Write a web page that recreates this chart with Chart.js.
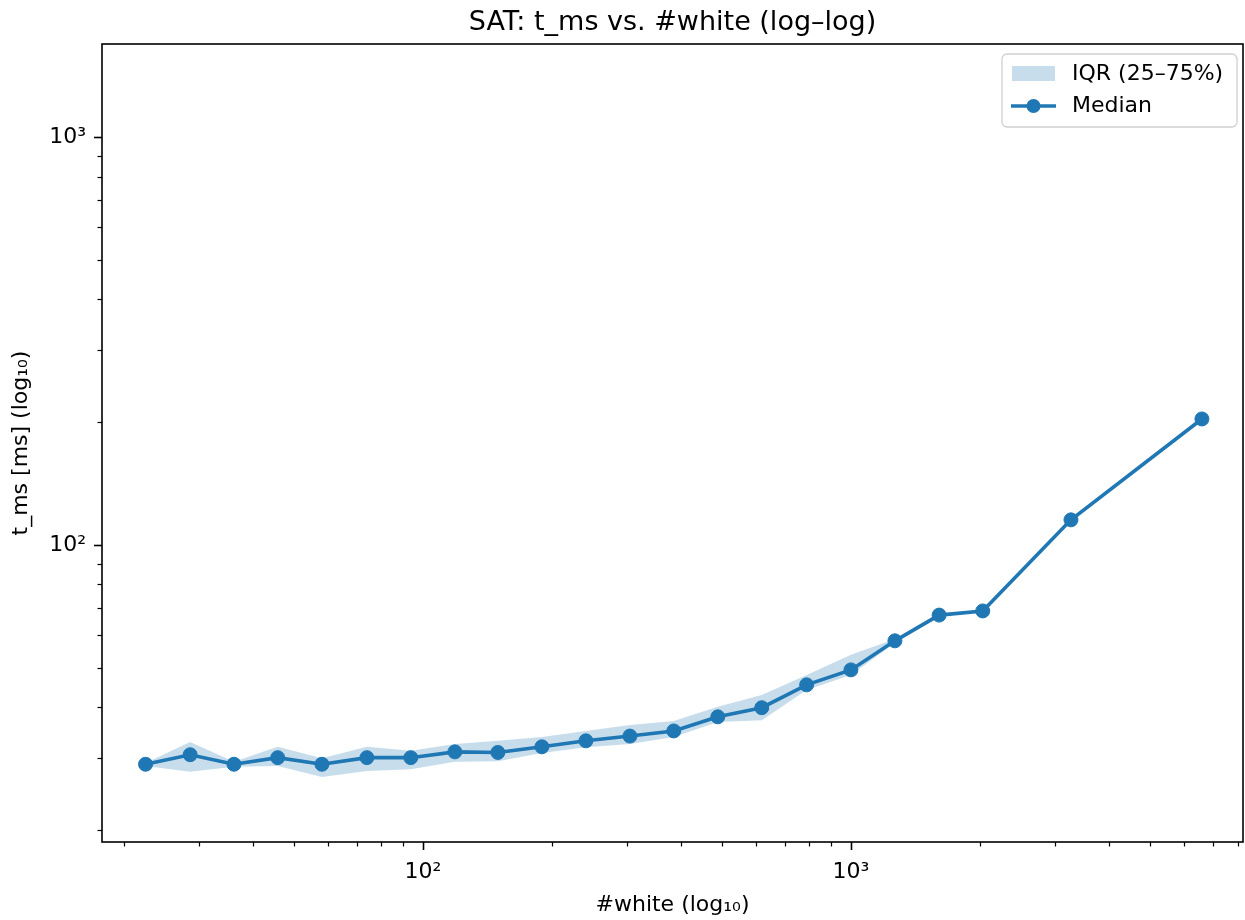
<!DOCTYPE html>
<html>
<head>
<meta charset="utf-8">
<script src="https://cdn.jsdelivr.net/npm/chart.js@4.4.1/dist/chart.umd.min.js"></script>
<style>
  html, body { margin: 0; padding: 0; background: #ffffff; }
  #wrap { width: 1245px; height: 920px; }
</style>
</head>
<body>
<div id="wrap"><canvas id="satChart" width="1245" height="920"></canvas></div>
<script>
// values
const whiteCounts = [22.5, 28.6, 36.2, 45.8, 58.1, 74, 93.7, 118.8, 149.7, 189.7, 240.4, 304.6, 385.6, 488.6, 619, 788, 1000, 1267, 1607, 2032, 3266, 6606];
const medianMs = [29.0, 30.6, 29.0, 30.1, 29.0, 30.1, 30.1, 31.1, 31.0, 32.0, 33.1, 34.0, 35.0, 37.9, 39.9, 45.4, 49.4, 58.2, 67.3, 68.9, 115.2, 203.6];
const q25Ms = [28.7, 27.8, 28.6, 28.7, 27.0, 27.9, 28.2, 29.4, 29.5, 30.9, 31.9, 32.5, 33.8, 36.8, 37.2, 44.1, 48.0, 57.5, 67.3, 68.9, 115.2, 203.6];
const q75Ms = [29.2, 32.9, 29.4, 32.0, 30.0, 32.0, 31.3, 32.5, 33.1, 33.8, 35.0, 36.2, 37.0, 40.1, 42.9, 48.0, 53.8, 58.8, 67.3, 68.9, 115.2, 203.6];

const xTickValues = [20, 30, 40, 50, 60, 70, 80, 90, 100, 200, 300, 400, 500, 600, 700, 800, 900, 1000, 2000, 3000, 4000, 5000, 6000, 7000, 8000];
const yTickValues = [20, 30, 40, 50, 60, 70, 80, 90, 100, 200, 300, 400, 500, 600, 700, 800, 900, 1000];
const majorLabels = { 100: '10\u00B2', 1000: '10\u00B3' };

const blue = '#1f77b4';
const bandFill = 'rgba(31, 119, 180, 0.25)';
const fontFamily = '"DejaVu Sans", sans-serif';

function points(ys) {
  return whiteCounts.map((x, i) => ({ x: x, y: ys[i] }));
}

function setTicks(values) {
  return function(scale) {
    scale.ticks = values.map(v => ({ value: v, major: v in majorLabels }));
  };
}

// matplotlib-like frame, outward ticks, title and legend
const decorations = {
  id: 'decorations',
  afterDraw(chart) {
    const ctx = chart.ctx;
    const area = chart.chartArea;
    const xs = chart.scales.x;
    const ys = chart.scales.y;
    ctx.save();

    ctx.strokeStyle = '#000';
    xs.ticks.forEach(t => {
      const px = Math.round(xs.getPixelForValue(t.value)) + 0.5;
      const major = t.value in majorLabels;
      ctx.lineWidth = major ? 1.6 : 1.2;
      ctx.beginPath();
      ctx.moveTo(px, area.bottom);
      ctx.lineTo(px, area.bottom + (major ? 8 : 4.5));
      ctx.stroke();
    });
    ys.ticks.forEach(t => {
      const py = Math.round(ys.getPixelForValue(t.value)) + 0.5;
      const major = t.value in majorLabels;
      ctx.lineWidth = major ? 1.6 : 1.2;
      ctx.beginPath();
      ctx.moveTo(area.left, py);
      ctx.lineTo(area.left - (major ? 8 : 4.5), py);
      ctx.stroke();
    });

    ctx.lineWidth = 1.6;
    ctx.strokeRect(area.left, area.top, area.right - area.left, area.bottom - area.top);

    // title
    ctx.fillStyle = '#000';
    ctx.font = '27px ' + fontFamily;
    ctx.textAlign = 'center';
    ctx.textBaseline = 'middle';
    ctx.fillText('SAT: t_ms vs. #white (log\u2013log)', (area.left + area.right) / 2, 23);

    // legend
    const boxW = 235, boxH = 73;
    const bx = area.right - 6 - boxW;
    const by = area.top + 10;
    ctx.beginPath();
    ctx.roundRect(bx, by, boxW, boxH, 5);
    ctx.fillStyle = 'rgba(255,255,255,0.8)';
    ctx.fill();
    ctx.strokeStyle = '#d0d0d0';
    ctx.lineWidth = 1.3;
    ctx.stroke();

    ctx.fillStyle = bandFill;
    ctx.fillRect(bx + 10, by + 12, 43, 15);

    ctx.strokeStyle = blue;
    ctx.lineWidth = 3.6;
    ctx.beginPath();
    ctx.moveTo(bx + 9, by + 52);
    ctx.lineTo(bx + 54, by + 52);
    ctx.stroke();
    ctx.fillStyle = blue;
    ctx.beginPath();
    ctx.arc(bx + 31.5, by + 52, 7, 0, Math.PI * 2);
    ctx.fill();

    ctx.fillStyle = '#000';
    ctx.font = '22px ' + fontFamily;
    ctx.textAlign = 'left';
    ctx.textBaseline = 'middle';
    ctx.fillText('IQR (25\u201375%)', bx + 70, by + 20);
    ctx.fillText('Median', bx + 70, by + 52);

    ctx.restore();
  }
};

const ctx = document.getElementById('satChart').getContext('2d');

new Chart(ctx, {
  type: 'line',
  data: {
    datasets: [
      {
        label: 'Median',
        data: points(medianMs),
        borderColor: blue,
        backgroundColor: blue,
        borderWidth: 3.6,
        pointRadius: 7,
        pointBackgroundColor: blue,
        pointBorderColor: blue,
        pointBorderWidth: 1,
        fill: false,
        tension: 0
      },
      {
        label: 'q25',
        data: points(q25Ms),
        borderColor: 'transparent',
        borderWidth: 0,
        pointRadius: 0,
        fill: false,
        tension: 0
      },
      {
        label: 'IQR (25–75%)',
        data: points(q75Ms),
        borderColor: 'transparent',
        backgroundColor: bandFill,
        borderWidth: 0,
        pointRadius: 0,
        fill: '-1',
        tension: 0
      }
    ]
  },
  options: {
    responsive: false,
    animation: false,
    devicePixelRatio: 1,
    layout: { autoPadding: false, padding: { top: 44, left: 0, right: 2, bottom: 0 } },
    plugins: {
      legend: { display: false },
      title: { display: false },
      tooltip: { enabled: false }
    },
    scales: {
      x: {
        type: 'logarithmic',
        min: 17.8,
        max: 8240,
        afterBuildTicks: setTicks(xTickValues),
        afterFit: scale => {
          scale.height = 78;
          scale.paddingLeft = 0;
          scale.paddingRight = 0;
        },
        grid: { display: false, drawTicks: false, tickLength: 0 },
        border: { display: false },
        ticks: {
          autoSkip: false,
          maxRotation: 0,
          minRotation: 0,
          padding: 17,
          color: '#000',
          font: { family: fontFamily, size: 22 },
          callback: value => majorLabels[value] || ''
        },
        title: {
          display: true,
          text: '#white (log\u2081\u2080)',
          color: '#000',
          font: { family: fontFamily, size: 22 },
          padding: { top: 0, bottom: 2 }
        }
      },
      y: {
        type: 'logarithmic',
        min: 18.7,
        max: 1690,
        afterBuildTicks: setTicks(yTickValues),
        afterFit: scale => {
          scale.width = 102;
          scale.paddingTop = 0;
          scale.paddingBottom = 0;
        },
        grid: { display: false, drawTicks: false, tickLength: 0 },
        border: { display: false },
        ticks: {
          autoSkip: false,
          padding: 16,
          color: '#000',
          font: { family: fontFamily, size: 22 },
          callback: value => majorLabels[value] || ''
        },
        title: {
          display: true,
          text: 't_ms [ms] (log\u2081\u2080)',
          color: '#000',
          font: { family: fontFamily, size: 22 },
          padding: { top: 8, bottom: 0 }
        }
      }
    }
  },
  plugins: [decorations]
});
</script>
</body>
</html>
